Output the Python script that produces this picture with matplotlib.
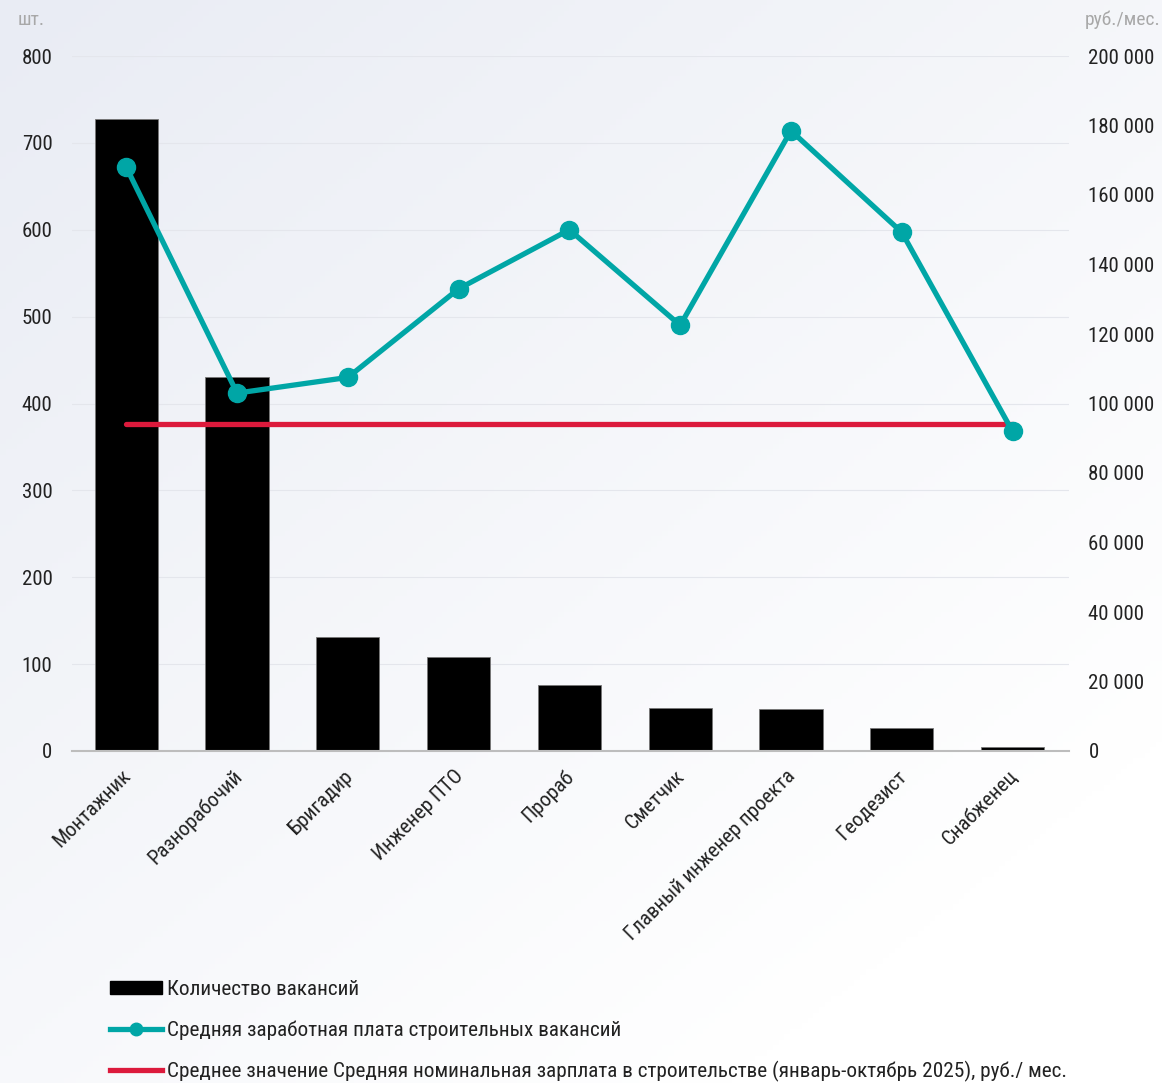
import numpy as np
import matplotlib
matplotlib.use("Agg")
import matplotlib.pyplot as plt
import matplotlib.transforms as mtransforms
from matplotlib.lines import Line2D
from matplotlib.patches import Patch
from matplotlib.colors import LinearSegmentedColormap

plt.rcParams['font.family'] = ['Roboto Condensed', 'Roboto', 'DejaVu Sans']

# data
professions = ['Монтажник', 'Разнорабочий', 'Бригадир', 'Инженер ПТО', 'Прораб',
               'Сметчик', 'Главный инженер проекта', 'Геодезист', 'Снабженец']
vacancies = [727, 430, 131, 108, 76, 50, 48, 27, 5]
avg_salary = [168000, 103000, 107500, 133000, 150000, 122500, 178500, 149300, 92000]
industry_salary = 94100

left_ticks = [0, 100, 200, 300, 400, 500, 600, 700, 800]
right_ticks = list(range(0, 200001, 20000))

teal = '#00a6a6'
crimson = '#dc1a3c'
text_col = '#222222'

fig = plt.figure(figsize=(11.62, 10.83), dpi=100)

# soft diagonal background
bg = fig.add_axes([0, 0, 1, 1], zorder=-10)
yy, xx = np.mgrid[0:1:200j, 0:1:200j]
grad = np.clip(0.55 * xx + 0.65 * yy, 0, 1)
cmap = LinearSegmentedColormap.from_list('bg', ['#e9ecf4', '#ffffff'])
bg.imshow(grad, cmap=cmap, aspect='auto', extent=[0, 1, 0, 1], origin='upper')
bg.axis('off')

ax = fig.add_axes([72 / 1162, 1 - 751 / 1083, (1069 - 72) / 1162, (751 - 56) / 1083])
ax.set_facecolor('none')
x = np.arange(len(professions))

ax.bar(x, vacancies, width=0.57, color='black', edgecolor='#777777', linewidth=0.6, zorder=2)
ax.set_ylim(0, 800)
ax.set_xlim(-0.49, len(professions) - 0.49)
ax.set_yticks(left_ticks)
ax.yaxis.grid(True, color='#e4e6ec', linewidth=0.8, zorder=0)
ax.set_axisbelow(True)
for s in ['top', 'right', 'left']:
    ax.spines[s].set_visible(False)
ax.spines['bottom'].set_color('#bdbdbd')
ax.spines['bottom'].set_linewidth(1.5)
ax.tick_params(axis='y', length=0, pad=14, labelsize=15, labelcolor=text_col)
ax.tick_params(axis='x', length=0, pad=11, labelsize=15, labelcolor=text_col)
ax.set_xticks(x)
ax.set_xticklabels(professions, rotation=45, ha='right', rotation_mode='anchor')
shift = mtransforms.ScaledTranslation(-5 / 100, 0, fig.dpi_scale_trans)
for lbl in ax.get_xticklabels():
    lbl.set_transform(lbl.get_transform() + shift)

ax2 = ax.twinx()
ax2.set_ylim(0, 200000)
ax2.set_yticks(right_ticks)
ax2.set_yticklabels([f'{v:,}'.replace(',', ' ') for v in right_ticks])
ax2.tick_params(axis='y', length=0, pad=14, labelsize=15, labelcolor=text_col)
for s in ax2.spines.values():
    s.set_visible(False)

ax2.plot([x[0], x[-1]], [industry_salary, industry_salary], color=crimson, lw=3.8,
         solid_capstyle='round', zorder=3)
ax2.plot(x, avg_salary, color=teal, lw=3.8, marker='o', markersize=13, zorder=4)

fig.text(18 / 1162, 1 - 20 / 1083, 'шт.', color='#a8a8a8', fontsize=14, va='center')
fig.text(1160 / 1162, 1 - 20 / 1083, 'руб./мес.', color='#a8a8a8', fontsize=14,
         va='center', ha='right')

handles = [
    Patch(facecolor='black', edgecolor='black'),
    Line2D([], [], color=teal, lw=3.8, marker='o', markersize=9),
    Line2D([], [], color=crimson, lw=3.8),
]
labels = ['Количество вакансий',
          'Средняя заработная плата строительных вакансий',
          'Среднее значение Средняя номинальная зарплата в строительстве (январь-октябрь 2025), руб./ мес.']
leg = fig.legend(handles, labels, loc='upper left', bbox_to_anchor=(110 / 1162, 1 - 980 / 1083),
                 frameon=False, fontsize=15.3, handlelength=2.45, handleheight=0.55,
                 handletextpad=0.25, labelspacing=1.0, borderpad=0, borderaxespad=0)
for t in leg.get_texts():
    t.set_color(text_col)

fig.savefig('out.png', dpi=100)
